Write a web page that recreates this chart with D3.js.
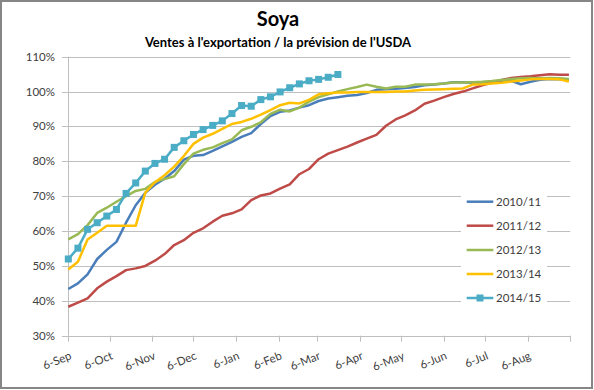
<!DOCTYPE html>
<html><head><meta charset="utf-8">
<script src="https://cdn.jsdelivr.net/npm/d3@7"></script>
<style>body{margin:0;background:#fff}svg{display:block}text{font-family:Lato,"Open Sans",sans-serif}</style>
</head><body><svg id="c" width="594" height="390"></svg>
<script>
const title = "Soya";
const subtitle = "Ventes à l'exportation / la prévision de l'USDA";
const seasonStart = "2014-09-06";
const seriesNames = ["2010/11", "2011/12", "2012/13", "2013/14", "2014/15"];
const s2010 = [43.4,45.0,47.6,52.0,54.6,56.9,62.4,67.4,71.0,73.3,75.0,77.2,80.5,81.6,81.8,83.0,84.3,85.6,87.0,88.1,90.7,93.0,94.2,94.6,95.4,96.1,97.3,98.0,98.4,98.8,99.0,99.6,100.5,100.7,100.8,101.0,101.3,101.8,102.0,102.3,102.7,102.7,102.5,102.6,102.7,102.9,103.1,102.1,102.8,103.4,103.6,103.5,103.3];
const s2011 = [38.3,39.5,40.7,43.6,45.5,47.1,48.8,49.3,50.0,51.5,53.4,56.0,57.4,59.5,60.8,62.7,64.4,65.1,66.2,68.9,70.2,70.8,72.2,73.4,76.3,77.8,80.6,82.2,83.2,84.2,85.4,86.5,87.6,90.2,92.0,93.2,94.6,96.5,97.4,98.4,99.3,100.0,100.9,101.8,102.6,103.3,103.9,104.2,104.4,104.7,105.0,104.8,104.8];
const s2012 = [57.6,59.1,61.7,65.2,66.7,68.4,70.0,71.5,72.1,74.1,74.9,75.7,79.2,82.2,83.3,84.0,85.2,86.3,88.9,89.9,91.2,93.6,94.8,94.3,95.4,97.1,98.4,99.2,100.0,100.7,101.3,102.0,101.4,100.9,101.4,101.4,102.0,102.0,102.1,102.3,102.6,102.6,102.7,102.8,103.0,103.3,103.6,103.8,103.9,103.8,103.9,103.8,103.6];
const s2013 = [49.0,51.2,57.6,59.5,61.5,61.5,61.5,61.5,71.0,74.0,76.0,78.5,81.5,85.0,86.8,87.9,89.3,90.7,91.3,92.2,93.4,94.7,96.1,96.8,96.6,97.6,99.2,99.5,99.7,99.7,99.9,99.9,99.9,99.9,100.0,100.0,100.3,100.5,100.6,100.7,100.8,100.9,102.0,102.1,102.3,102.5,102.9,103.2,103.5,103.6,103.6,103.5,102.9];
const s2014 = [52.0,55.1,60.5,62.4,64.3,66.2,70.8,73.8,77.2,79.4,80.6,84.0,85.9,87.7,89.1,90.3,91.6,93.7,96.0,95.8,97.7,98.5,99.9,101.1,102.2,103.1,103.5,104.1,104.9];
const yTicks = [30, 40, 50, 60, 70, 80, 90, 100, 110];
const xTickLabels = ["6-Sep","6-Oct","6-Nov","6-Dec","6-Jan","6-Feb","6-Mar","6-Apr","6-May","6-Jun","6-Jul","6-Aug"];
const colors = ["#4A7EBB", "#BE4B48", "#98B954", "#FFC000", "#4BACC6"];

const allSeries = [s2010, s2011, s2012, s2013, s2014];
const svg = d3.select("#c");
const start = d3.timeParse("%Y-%m-%d")(seasonStart);
const end = d3.timeMonth.offset(start, 12);
const x = d3.scaleTime().domain([start, end]).range([68.3, 570.3]);
const y = d3.scaleLinear().domain([30, 110]).range([335.7, 56.7]);
const grid = "#bfbfbf";

svg.append("rect").attr("x",1).attr("y",1).attr("width",591).attr("height",387)
  .attr("fill","#fff").attr("stroke","#868686").attr("stroke-width",2);

svg.append("text").attr("x",278).attr("y",26).attr("text-anchor","middle")
  .attr("font-size",20).attr("font-weight","bold").attr("fill","#000").text(title);
svg.append("text").attr("x",278).attr("y",46.5).attr("text-anchor","middle")
  .attr("font-size",13).attr("font-weight","bold").attr("fill","#000").text(subtitle);

// gridlines
svg.append("g").selectAll("line").data(yTicks).join("line")
  .attr("x1",62).attr("x2",570.3)
  .attr("y1",d=>Math.round(y(d))+0.5).attr("y2",d=>Math.round(y(d))+0.5)
  .attr("stroke",grid).attr("stroke-width",1);
svg.append("g").selectAll("text").data(yTicks).join("text")
  .attr("x",55).attr("y",d=>y(d)+4).attr("text-anchor","end")
  .attr("font-size",11.5).attr("fill","#404040").text(d=>d+"%");
// y axis line
svg.append("line").attr("x1",68.5).attr("x2",68.5).attr("y1",y(110)).attr("y2",y(30))
  .attr("stroke",grid);
// x axis ticks
const tickDates = d3.range(13).map(i=>d3.timeMonth.offset(start,i));
svg.append("g").selectAll("line").data(tickDates).join("line")
  .attr("x1",d=>Math.round(x(d))+0.5).attr("x2",d=>Math.round(x(d))+0.5)
  .attr("y1",y(30)).attr("y2",y(30)+6).attr("stroke",grid);
svg.append("g").selectAll("text").data(xTickLabels).join("text")
  .attr("transform",(d,i)=>`translate(${x(tickDates[i])+4},${y(30)+23}) rotate(-22)`)
  .attr("text-anchor","end").attr("font-size",11.5).attr("fill","#404040").text(d=>d);

// series
const line = d3.line().x((d,i)=>x(d3.timeDay.offset(start,7*i))).y(d=>y(d));
allSeries.forEach((s,k)=>{
  svg.append("path").datum(s).attr("d",line).attr("fill","none")
    .attr("stroke",colors[k]).attr("stroke-width",2.5).attr("stroke-linejoin","round");
});
svg.append("g").selectAll("rect").data(s2014).join("rect")
  .attr("x",(d,i)=>x(d3.timeDay.offset(start,7*i))-3.5).attr("y",d=>y(d)-3.5)
  .attr("width",7).attr("height",7).attr("fill",colors[4]);

// legend
const lg = svg.append("g");
lg.append("rect").attr("x",461).attr("y",188).attr("width",86).attr("height",122).attr("fill","#fff");
const rowsY = [201.7, 225.7, 250, 274, 298];
seriesNames.forEach((n,k)=>{
  lg.append("line").attr("x1",466.7).attr("x2",493.3).attr("y1",rowsY[k]).attr("y2",rowsY[k])
    .attr("stroke",colors[k]).attr("stroke-width",2.5);
  if (k===4) lg.append("rect").attr("x",476.5).attr("y",rowsY[k]-3.5).attr("width",7).attr("height",7).attr("fill",colors[k]);
  lg.append("text").attr("x",496).attr("y",rowsY[k]+4).attr("font-size",11.5).attr("fill","#404040").text(n);
});
</script></body></html>
